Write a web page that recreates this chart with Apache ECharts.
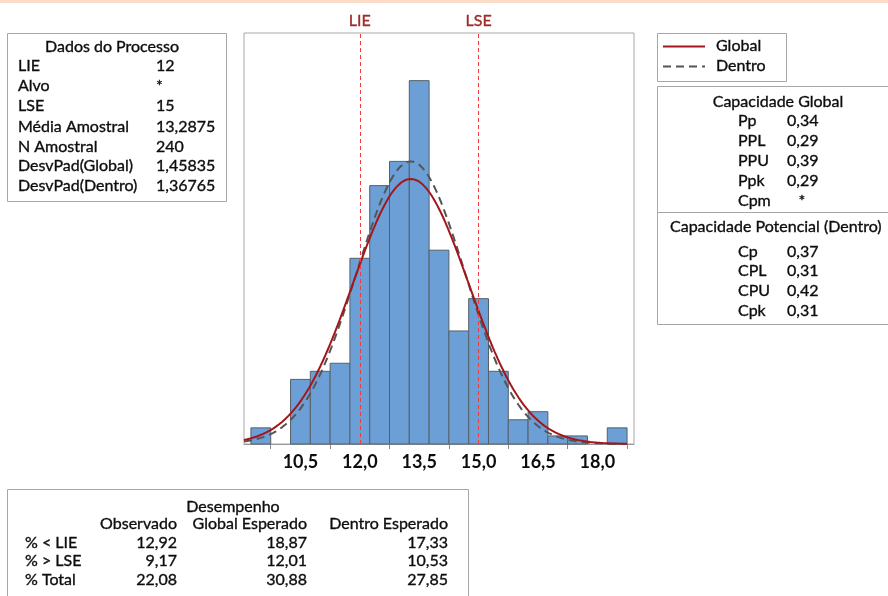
<!DOCTYPE html>
<html>
<head>
<meta charset="utf-8">
<script src="https://cdn.jsdelivr.net/npm/echarts@6/dist/echarts.min.js"></script>
<style>
  html, body { margin: 0; padding: 0; background: #ffffff; }
  #chart { width: 888px; height: 596px; }
</style>
</head>
<body>
<div id="chart"></div>
<script>
// Histogram bins (midpoints) and observed counts
const binCenters = [9.5, 10.0, 10.5, 11.0, 11.5, 12.0, 12.5, 13.0, 13.5, 14.0, 14.5, 15.0, 15.5, 16.0, 16.5, 17.0, 17.5, 18.0, 18.5];
const binCounts  = [2, 0, 8, 9, 10, 23, 32, 35, 45, 24, 14, 18, 9, 3, 4, 1, 1, 0, 2];
const binWidth = 0.5;

// Process data
const LIE = 12;
const LSE = 15;
const sampleMean = 13.2875;
const sampleN = 240;
const sdGlobal = 1.45835;
const sdWithin = 1.36765;

// Axis ticks and labels
const tickPositions = [9.75, 11.25, 12.75, 14.25, 15.75, 17.25, 18.75];
const tickLabels = [10.5, 12.0, 13.5, 15.0, 16.5, 18.0];

// Side tables
const processLabels = ['LIE', 'Alvo', 'LSE', 'Média Amostral', 'N Amostral', 'DesvPad(Global)', 'DesvPad(Dentro)'];
const processValues = ['12', '*', '15', '13,2875', '240', '1,45835', '1,36765'];
const capGlobalLabels = ['Pp', 'PPL', 'PPU', 'Ppk', 'Cpm'];
const capGlobalValues = ['0,34', '0,29', '0,39', '0,29', '*'];
const capWithinLabels = ['Cp', 'CPL', 'CPU', 'Cpk'];
const capWithinValues = ['0,37', '0,31', '0,42', '0,31'];
const perfRowLabels = ['% < LIE', '% > LSE', '% Total'];
const perfHeaders = ['Observado', 'Global Esperado', 'Dentro Esperado'];
const perfObserved = ['12,92', '9,17', '22,08'];
const perfGlobalExp = ['18,87', '12,01', '30,88'];
const perfWithinExp = ['17,33', '10,53', '27,85'];

const xMin = 9.075, xMax = 18.925;
const curveEnd = 18.75;

// Fitted normal curves scaled to histogram counts
function normalCurve(mu, sd) {
  const pts = [];
  const steps = 240;
  for (let i = 0; i <= steps; i++) {
    const x = xMin + (curveEnd - xMin) * i / steps;
    const z = (x - mu) / sd;
    const y = sampleN * binWidth * Math.exp(-0.5 * z * z) / (sd * Math.sqrt(2 * Math.PI));
    pts.push([x, y]);
  }
  return pts;
}

const FONT = 'Lato, "Open Sans", sans-serif';
const TXT = '#0d0d0d';
const BOX = '#a6a6a6';

function txt(text, x, y, opts) {
  opts = opts || {};
  return {
    type: 'text',
    style: {
      text: text, x: x, y: y,
      fill: opts.fill || TXT,
      stroke: opts.fill || TXT, lineWidth: 0.35,
      font: (opts.weight || 'normal') + ' ' + (opts.size || 16) + 'px ' + FONT,
      textAlign: opts.align || 'left',
      textVerticalAlign: 'middle'
    },
    z: 10
  };
}
function box(x, y, w, h) {
  return { type: 'rect', shape: { x: x, y: y, width: w, height: h },
           style: { fill: '#ffffff', stroke: BOX, lineWidth: 1 }, z: 5 };
}

const graphics = [];
// top band
graphics.push({ type: 'rect', shape: { x: 0, y: 0, width: 888, height: 3 }, style: { fill: '#fbdcc9' }, z: 5 });

// Process data box
graphics.push(box(7.5, 33.5, 219, 168));
graphics.push(txt('Dados do Processo', 112, 47, { align: 'center' }));
const procY = [66, 86, 106, 127, 147, 166, 186];
processLabels.forEach((l, i) => {
  graphics.push(txt(l, 18, procY[i]));
  graphics.push(txt(processValues[i], 156, procY[i]));
});

// Legend box
graphics.push(box(657.5, 33.5, 129, 48));
graphics.push({ type: 'line', shape: { x1: 663, y1: 46.5, x2: 705, y2: 46.5 }, style: { stroke: '#a3171c', lineWidth: 2 }, z: 10 });
graphics.push({ type: 'line', shape: { x1: 663, y1: 66.5, x2: 705, y2: 66.5 }, style: { stroke: '#555555', lineWidth: 2, lineDash: [8, 5] }, z: 10 });
graphics.push(txt('Global', 716, 46));
graphics.push(txt('Dentro', 716, 66));

// Capability box
graphics.push(box(657.5, 86.5, 240, 238));
graphics.push({ type: 'line', shape: { x1: 657.5, y1: 212.5, x2: 890, y2: 212.5 }, style: { stroke: BOX, lineWidth: 1 }, z: 10 });
graphics.push(txt('Capacidade Global', 778, 102, { align: 'center' }));
const cgY = [121, 141, 161, 181, 201];
capGlobalLabels.forEach((l, i) => {
  graphics.push(txt(l, 738, cgY[i]));
  if (capGlobalValues[i] === '*') graphics.push(txt('*', 802, cgY[i], { align: 'center' }));
  else graphics.push(txt(capGlobalValues[i], 787, cgY[i]));
});
graphics.push(txt('Capacidade Potencial (Dentro)', 670, 227));
const cwY = [252, 271, 291, 311];
capWithinLabels.forEach((l, i) => {
  graphics.push(txt(l, 738, cwY[i]));
  graphics.push(txt(capWithinValues[i], 787, cwY[i]));
});

// Performance table
graphics.push(box(7.5, 489.5, 461, 120));
graphics.push(txt('Desempenho', 233, 507, { align: 'center' }));
const colRight = [177, 307, 448];
perfHeaders.forEach((h, j) => graphics.push(txt(h, colRight[j], 524, { align: 'right' })));
const perfY = [543, 561, 580];
const perfCols = [perfObserved, perfGlobalExp, perfWithinExp];
perfRowLabels.forEach((l, i) => {
  graphics.push(txt(l, 25, perfY[i]));
  perfCols.forEach((col, j) => graphics.push(txt(col[i], colRight[j], perfY[i], { align: 'right' })));
});

const chart = echarts.init(document.getElementById('chart'), null, { renderer: 'canvas' });
chart.setOption({
  animation: false,
  backgroundColor: '#ffffff',
  grid: {
    left: 244, top: 33, width: 390, height: 411,
    show: true, borderColor: '#a8a8a8', borderWidth: 1, backgroundColor: 'transparent'
  },
  xAxis: {
    type: 'value', min: xMin, max: xMax,
    splitLine: { show: false },
    axisLine: { show: true, onZero: false, lineStyle: { color: '#9a9a9a', width: 1 } },
    axisTick: { show: true, customValues: tickPositions, length: 5, lineStyle: { color: '#8a8a8a' } },
    axisLabel: {
      customValues: tickLabels, margin: 9,
      formatter: v => v.toFixed(1).replace('.', ','),
      color: '#0d0d0d', fontSize: 18, fontWeight: 'bold', fontFamily: FONT
    }
  },
  yAxis: { type: 'value', min: 0, max: 50.9, show: false, splitLine: { show: false } },
  series: [
    {
      type: 'custom',
      name: 'Histograma',
      data: binCenters.map((c, i) => [c, binCounts[i]]),
      renderItem: function (params, api) {
        const c = api.value(0), n = api.value(1);
        if (!n) return null;
        const p0 = api.coord([c - binWidth / 2, n]);
        const p1 = api.coord([c + binWidth / 2, 0]);
        return {
          type: 'rect',
          shape: { x: p0[0], y: p0[1], width: p1[0] - p0[0], height: p1[1] - p0[1] },
          style: { fill: '#6b9fd5', stroke: '#56606b', lineWidth: 1 }
        };
      },
      z: 2
    },
    {
      type: 'line', name: 'Dentro',
      data: normalCurve(sampleMean, sdWithin),
      showSymbol: false, symbol: 'none',
      lineStyle: { color: '#555555', width: 2, type: [8, 5] },
      z: 3
    },
    {
      type: 'line', name: 'Global',
      data: normalCurve(sampleMean, sdGlobal),
      showSymbol: false, symbol: 'none',
      lineStyle: { color: '#a3171c', width: 2 },
      z: 4,
      markLine: {
        silent: true, symbol: 'none',
        lineStyle: { color: '#f03c3c', width: 1, type: [4, 3] },
        label: { show: true, position: 'end', formatter: '{b}', color: '#9e2a2b', fontSize: 16, fontFamily: FONT, distance: 4,
                 textBorderColor: '#9e2a2b', textBorderWidth: 0.35 },
        data: [{ name: 'LIE', xAxis: LIE }, { name: 'LSE', xAxis: LSE }]
      }
    }
  ],
  graphic: graphics
});
</script>
</body>
</html>
